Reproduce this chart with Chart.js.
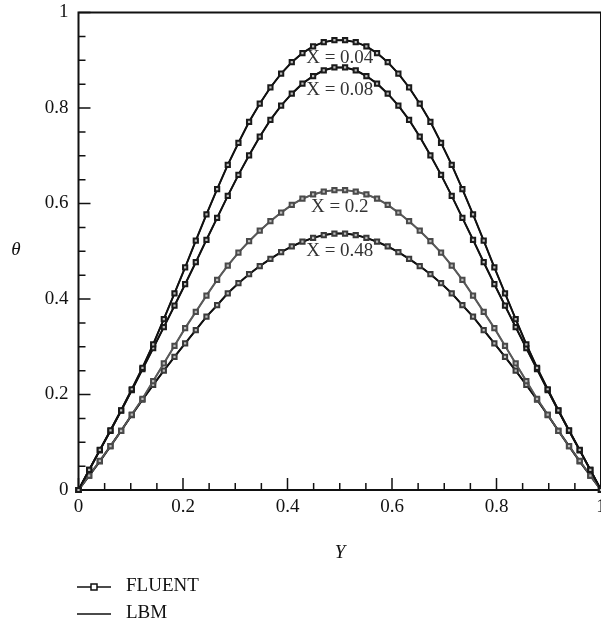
<!DOCTYPE html>
<html>
<head>
<meta charset="utf-8">
<script src="https://cdn.jsdelivr.net/npm/chart.js@4.4.0/dist/chart.umd.min.js"></script>
<style>
html, body { margin: 0; padding: 0; background: #fff; overflow: hidden; }
canvas { display: block; }
</style>
</head>
<body>
<canvas id="myChart" width="607" height="624"></canvas>
<script>
// Y positions of the FLUENT nodes (50 points across the channel)
const yPos = [0, 0.0204, 0.0408, 0.0612, 0.0816, 0.1020, 0.1224, 0.1429, 0.1633, 0.1837,
    0.2041, 0.2245, 0.2449, 0.2653, 0.2857, 0.3061, 0.3265, 0.3469, 0.3673, 0.3878,
    0.4082, 0.4286, 0.4490, 0.4694, 0.4898, 0.5102, 0.5306, 0.5510, 0.5714, 0.5918,
    0.6122, 0.6327, 0.6531, 0.6735, 0.6939, 0.7143, 0.7347, 0.7551, 0.7755, 0.7959,
    0.8163, 0.8367, 0.8571, 0.8776, 0.8980, 0.9184, 0.9388, 0.9592, 0.9796, 1];

// theta profiles
const theta004 = [0, 0.042, 0.084, 0.125, 0.167, 0.211, 0.256, 0.305, 0.358, 0.412,
    0.466, 0.522, 0.577, 0.630, 0.681, 0.727, 0.771, 0.809, 0.843, 0.872,
    0.896, 0.915, 0.929, 0.938, 0.942, 0.942, 0.938, 0.929, 0.915, 0.896,
    0.872, 0.843, 0.809, 0.771, 0.727, 0.681, 0.630, 0.577, 0.522, 0.466,
    0.412, 0.358, 0.305, 0.256, 0.211, 0.167, 0.125, 0.084, 0.042, 0];
const theta008 = [0, 0.042, 0.083, 0.124, 0.166, 0.209, 0.253, 0.297, 0.341, 0.386,
    0.431, 0.477, 0.524, 0.570, 0.616, 0.660, 0.701, 0.740, 0.775, 0.805,
    0.830, 0.851, 0.867, 0.879, 0.885, 0.885, 0.879, 0.867, 0.851, 0.830,
    0.805, 0.775, 0.740, 0.701, 0.660, 0.616, 0.570, 0.524, 0.477, 0.431,
    0.386, 0.341, 0.297, 0.253, 0.209, 0.166, 0.124, 0.083, 0.042, 0];
const theta02 = [0, 0.030, 0.061, 0.092, 0.124, 0.158, 0.191, 0.228, 0.265, 0.302,
    0.339, 0.373, 0.407, 0.440, 0.470, 0.497, 0.521, 0.543, 0.563, 0.581,
    0.597, 0.610, 0.619, 0.625, 0.628, 0.628, 0.625, 0.619, 0.610, 0.597,
    0.581, 0.563, 0.543, 0.521, 0.497, 0.470, 0.440, 0.407, 0.373, 0.339,
    0.302, 0.265, 0.228, 0.191, 0.158, 0.124, 0.092, 0.061, 0.030, 0];
const theta048 = [0, 0.030, 0.060, 0.092, 0.124, 0.157, 0.189, 0.220, 0.250, 0.279,
    0.307, 0.335, 0.363, 0.387, 0.412, 0.433, 0.452, 0.469, 0.484, 0.498,
    0.510, 0.520, 0.528, 0.534, 0.537, 0.537, 0.534, 0.528, 0.520, 0.510,
    0.498, 0.484, 0.469, 0.452, 0.433, 0.412, 0.387, 0.363, 0.335, 0.307,
    0.279, 0.250, 0.220, 0.189, 0.157, 0.124, 0.092, 0.060, 0.030, 0];

const curveNames = ['X = 0.04', 'X = 0.08', 'X = 0.2', 'X = 0.48'];
const curveLabelTheta = [0.904, 0.838, 0.593, 0.501];
const axisTicks = [0, 0.2, 0.4, 0.6, 0.8, 1];

const FONT = '"Liberation Serif", "Times New Roman", serif';
const curves = [theta004, theta008, theta02, theta048];
const lineColors = ['#111', '#111', '#5a5a5a', '#111'];
const markColors = ['#1a1a1a', '#1a1a1a', '#4a4a4a', '#3a3a3a'];

function pts(arr) {
    return arr.map((v, i) => ({ x: yPos[i], y: v }));
}

const datasets = [];
curves.forEach((c, k) => {
    // FLUENT: line with square markers
    datasets.push({
        label: 'FLUENT ' + curveNames[k],
        data: pts(c),
        borderColor: lineColors[k],
        borderWidth: 1.5,
        pointStyle: 'rect',
        pointRadius: 3,
        pointBorderWidth: 2,
        pointBorderColor: markColors[k],
        pointBackgroundColor: '#bbb',
        tension: 0,
        clip: false,
        order: 0
    });
    // LBM: plain line
    datasets.push({
        label: 'LBM ' + curveNames[k],
        data: pts(c),
        borderColor: lineColors[k],
        borderWidth: 2,
        pointRadius: 0,
        tension: 0,
        clip: false,
        order: 1
    });
});

const decorations = {
    id: 'decorations',
    beforeDatasetsDraw(chart) {
        const { ctx, chartArea: a, scales: { x, y } } = chart;
        ctx.save();
        ctx.strokeStyle = '#111';
        ctx.lineWidth = 2;
        ctx.strokeRect(a.left, a.top, a.right - a.left, a.bottom - a.top);
        ctx.lineWidth = 1.5;
        // inward tick marks, major every 0.2, minor every 0.05
        for (let i = 0; i <= 20; i++) {
            const v = i * 0.05;
            const len = i % 4 === 0 ? 12 : 7;
            const px = x.getPixelForValue(v);
            const py = y.getPixelForValue(v);
            ctx.beginPath();
            ctx.moveTo(px, a.bottom);
            ctx.lineTo(px, a.bottom - len);
            ctx.moveTo(a.left, py);
            ctx.lineTo(a.left + len, py);
            ctx.stroke();
        }
        ctx.restore();
    },
    afterDraw(chart) {
        const { ctx, chartArea: a, scales: { x, y } } = chart;
        ctx.save();
        // curve labels
        ctx.font = '19px ' + FONT;
        ctx.fillStyle = '#333';
        ctx.textAlign = 'center';
        ctx.textBaseline = 'middle';
        curveNames.forEach((n, k) => {
            ctx.fillText(n, x.getPixelForValue(0.5), y.getPixelForValue(curveLabelTheta[k]));
        });
        // axis titles
        ctx.fillStyle = '#111';
        ctx.font = 'italic 19px ' + FONT;
        ctx.fillText('θ', 16, 250);
        ctx.fillText('Y', 340, 553);
        // legend
        ctx.strokeStyle = '#111';
        ctx.lineWidth = 1.5;
        ctx.beginPath();
        ctx.moveTo(77, 587); ctx.lineTo(111, 587);
        ctx.moveTo(77, 614); ctx.lineTo(111, 614);
        ctx.stroke();
        ctx.fillStyle = '#fff';
        ctx.fillRect(91, 584, 6, 6);
        ctx.strokeRect(91, 584, 6, 6);
        ctx.fillStyle = '#111';
        ctx.font = '19px ' + FONT;
        ctx.textAlign = 'left';
        ctx.fillText('FLUENT', 126, 586);
        ctx.fillText('LBM', 126, 613);
        ctx.restore();
    }
};

const tickFont = { family: FONT, size: 19 };

new Chart(document.getElementById('myChart'), {
    type: 'line',
    data: { datasets },
    options: {
        responsive: false,
        animation: false,
        layout: { padding: { top: 12.5, left: 0, right: 5, bottom: 0 } },
        plugins: {
            legend: { display: false },
            tooltip: { enabled: false }
        },
        scales: {
            x: {
                type: 'linear',
                min: 0,
                max: 1,
                afterFit: s => {
                    s.height = 134;
                    s.paddingLeft = 0;
                    s.paddingRight = 0;
                },
                afterBuildTicks: s => { s.ticks = axisTicks.map(v => ({ value: v })); },
                grid: { display: false, drawTicks: false },
                border: { display: false },
                ticks: {
                    padding: 6,
                    color: '#111',
                    font: tickFont,
                    maxRotation: 0,
                    callback: v => String(v)
                }
            },
            y: {
                type: 'linear',
                min: 0,
                max: 1,
                afterFit: s => {
                    s.width = 78.5;
                    s.paddingTop = 0;
                    s.paddingBottom = 0;
                },
                afterBuildTicks: s => { s.ticks = axisTicks.map(v => ({ value: v })); },
                grid: { display: false, drawTicks: false },
                border: { display: false },
                ticks: {
                    padding: 10,
                    color: '#111',
                    font: tickFont,
                    callback: v => String(v)
                }
            }
        }
    },
    plugins: [decorations]
});
</script>
</body>
</html>
